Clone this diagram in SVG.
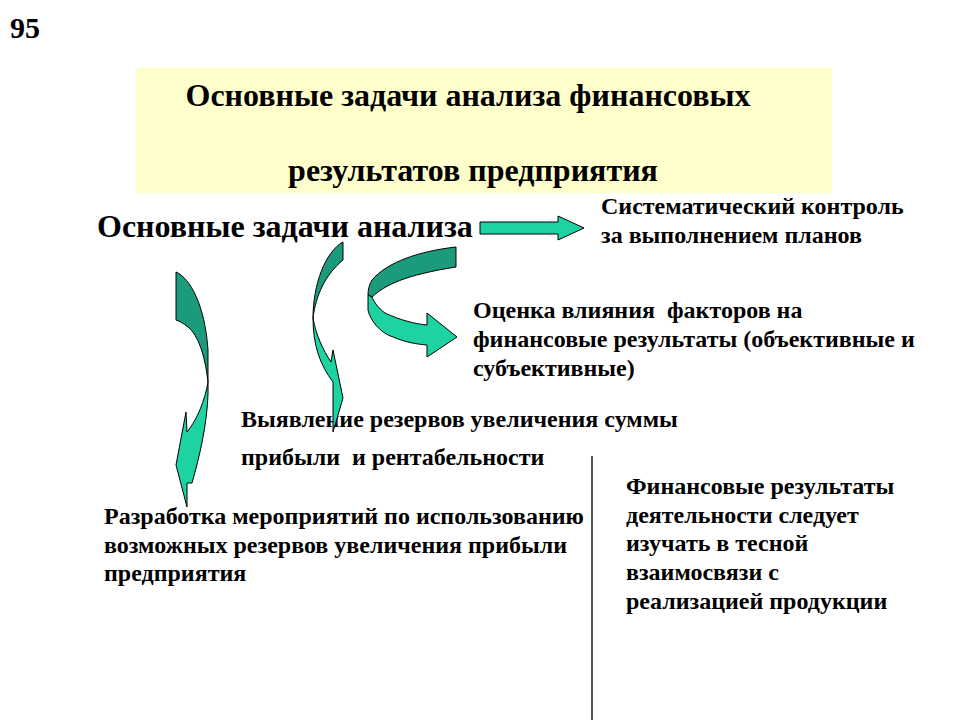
<svg xmlns="http://www.w3.org/2000/svg" width="960" height="720" viewBox="0 0 960 720">
<style>
.dark{fill:#1B9B7B;stroke:#000;stroke-width:1}
.light{fill:#1DD3A2;stroke:#000;stroke-width:1}
</style>
<rect width="960" height="720" fill="#fff"/>
<text x="10" y="38" font-family="Liberation Serif, serif" font-weight="bold" font-size="30">95</text>
<g id="title">
<rect x="136" y="68" width="696" height="125" fill="#FFFFCC"/>
<text x="468" y="106" text-anchor="middle" font-family="Liberation Serif, serif" font-weight="bold" font-size="32">Основные задачи анализа финансовых</text>
<text x="473" y="181" text-anchor="middle" font-family="Liberation Serif, serif" font-weight="bold" font-size="32">результатов предприятия</text>
</g>
<g id="main"><text x="97" y="237" font-family="Liberation Serif, serif" font-weight="bold" font-size="32">Основные задачи анализа</text></g>
<g id="n1"><text x="601" y="214" font-family="Liberation Serif, serif" font-weight="bold" font-size="24">Систематический контроль</text><text x="601" y="243" font-family="Liberation Serif, serif" font-weight="bold" font-size="24">за выполнением планов</text></g>
<g id="n2"><text x="473" y="318" font-family="Liberation Serif, serif" font-weight="bold" font-size="24" xml:space="preserve">Оценка влияния  факторов на</text><text x="473" y="347" font-family="Liberation Serif, serif" font-weight="bold" font-size="24">финансовые результаты (объективные и</text><text x="473" y="376" font-family="Liberation Serif, serif" font-weight="bold" font-size="24">субъективные)</text></g>
<g id="n3"><text x="241" y="427" font-family="Liberation Serif, serif" font-weight="bold" font-size="24">Выявление резервов увеличения суммы</text><text x="241" y="465" font-family="Liberation Serif, serif" font-weight="bold" font-size="24" xml:space="preserve">прибыли  и рентабельности</text></g>
<g id="n4"><text x="104" y="524" font-family="Liberation Serif, serif" font-weight="bold" font-size="24">Разработка мероприятий по использованию</text><text x="104" y="553" font-family="Liberation Serif, serif" font-weight="bold" font-size="24">возможных резервов увеличения прибыли</text><text x="104" y="581" font-family="Liberation Serif, serif" font-weight="bold" font-size="24">предприятия</text></g>
<g id="n5"><text x="626" y="494" font-family="Liberation Serif, serif" font-weight="bold" font-size="24">Финансовые результаты</text><text x="626" y="523" font-family="Liberation Serif, serif" font-weight="bold" font-size="24">деятельности следует</text><text x="626" y="551" font-family="Liberation Serif, serif" font-weight="bold" font-size="24">изучать в тесной</text><text x="626" y="580" font-family="Liberation Serif, serif" font-weight="bold" font-size="24">взаимосвязи с</text><text x="626" y="609" font-family="Liberation Serif, serif" font-weight="bold" font-size="24">реализацией продукции</text></g>
<g id="connectors">
<path class="light" d="M480,222 L558,222 L558,216 L584,228 L558,240 L558,234 L480,234 Z"/>
<path class="dark" d="M456,247 C420,251 387,262 372,280 C369,285 368,290 368,295 L372,297 C385,285 405,275 456,267 Z"/>
<path class="light" d="M368,295 L368,310 C370,320 380,333 393,337 C405,342 415,344 427,345 L427,357 L457,337 L427,313 L427,325 C415,324 400,320 385,313 C378,308 374,302 372,297 Z"/>
<path class="dark" d="M343,242 C325,252 313,285 313,318 C316,295 325,275 343,260 Z"/>
<path class="light" d="M313,318 C313,345 320,365 333,382 L333,432 L343,398 L333,350 L331,362 C323,350 316,335 313,318 Z"/>
<path class="dark" d="M176,272 C190,278 205,305 208,350 L208,382 C205,355 198,335 188,327 C183,323 179,321 176,320 Z"/>
<path class="light" d="M208,382 C209,410 203,445 192,483 L187,483 L187,507 L176,465 L186,412 L187,432 C197,420 205,400 208,382 Z"/>
<line x1="592" y1="456" x2="592" y2="720" stroke="#555" stroke-width="2"/>
</g>
</svg>
